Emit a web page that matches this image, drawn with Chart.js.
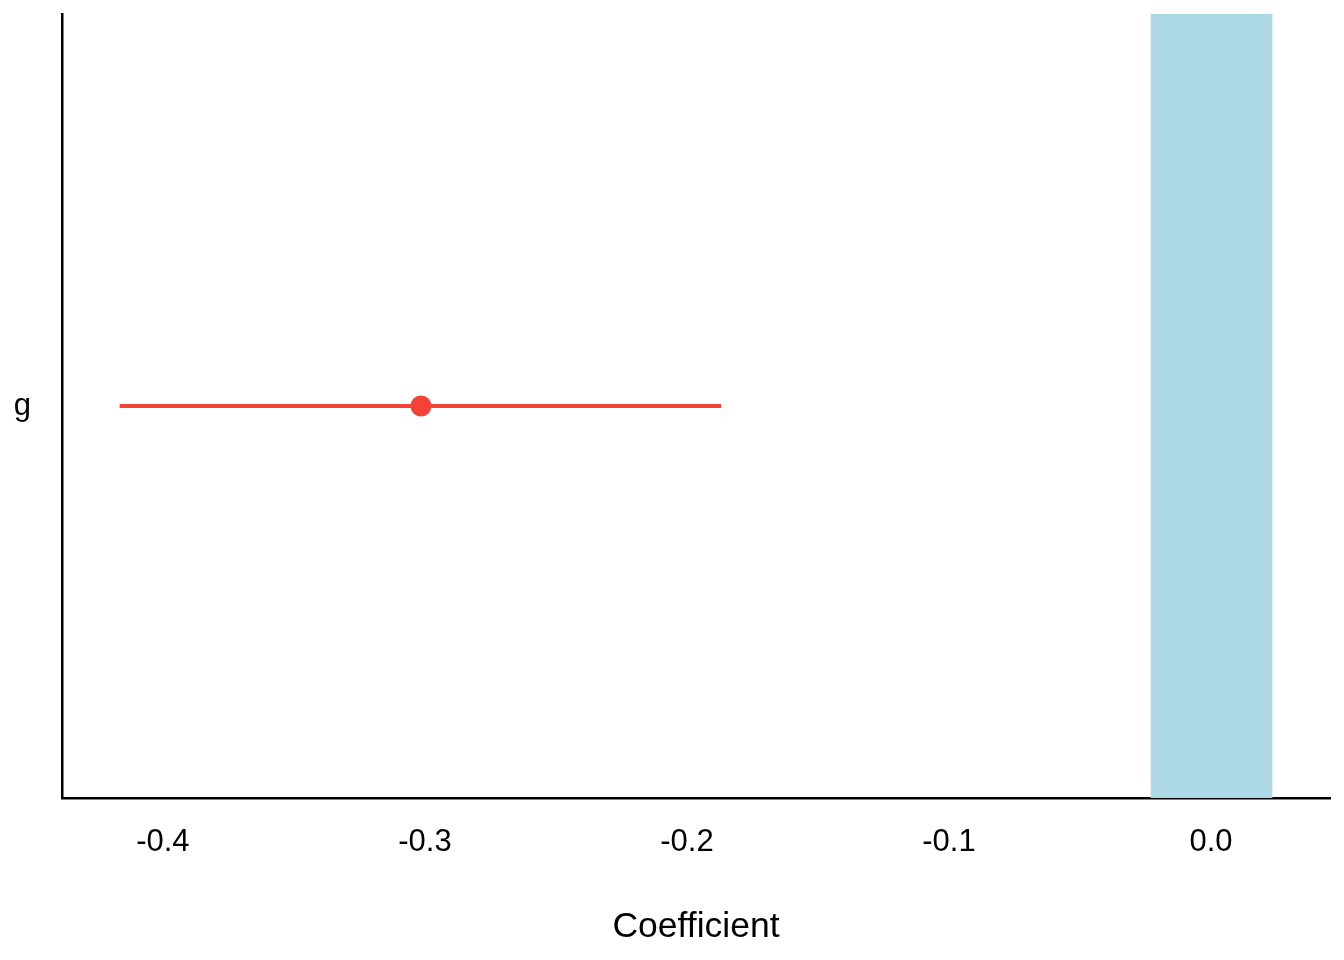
<!DOCTYPE html>
<html>
<head>
<meta charset="utf-8">
<script src="https://cdn.jsdelivr.net/npm/chart.js@4"></script>
<style>
  html, body { margin: 0; padding: 0; background: #fff; }
  #wrap { width: 1344px; height: 960px; }
</style>
</head>
<body>
<div id="wrap"><canvas id="chart" width="1344" height="960"></canvas></div>
<script>
// ------------------------------------------
// Dados
// ------------------------------------------
const terms = ['g'];
const estimates = [-0.3015];
const ciLow = [-0.4165];
const ciHigh = [-0.1870];
const bandRange = [-0.0229, 0.0233];
const xTicks = [-0.4, -0.3, -0.2, -0.1, 0.0];
const xMin = -0.4385;
const xMax = 0.0454;

const RED = '#F44336';
const FONT = "'Liberation Sans', Arial, sans-serif";

const ctx = document.getElementById('chart').getContext('2d');

new Chart(ctx, {
    type: 'bar',
    data: {
        labels: terms,
        datasets: [
            {
                // faixa em torno de zero
                type: 'bar',
                data: terms.map(() => bandRange),
                backgroundColor: '#ADD8E6',
                borderWidth: 0,
                barPercentage: 1,
                categoryPercentage: 1,
                order: 3
            },
            {
                // intervalo de confiança
                type: 'line',
                indexAxis: 'y',
                data: terms.flatMap((t, i) => [{ x: ciLow[i], y: t }, { x: ciHigh[i], y: t }]),
                borderColor: RED,
                borderWidth: 4,
                pointRadius: 0,
                fill: false,
                order: 2
            },
            {
                // estimativa pontual
                type: 'scatter',
                indexAxis: 'y',
                data: terms.map((t, i) => ({ x: estimates[i], y: t })),
                backgroundColor: RED,
                borderColor: RED,
                pointRadius: 10.5,
                borderWidth: 0,
                order: 1
            }
        ]
    },
    options: {
        indexAxis: 'y',
        responsive: false,
        animation: false,
        layout: { padding: { top: 14, right: 14, left: 0, bottom: 0 } },
        plugins: {
            legend: { display: false },
            tooltip: { enabled: false }
        },
        scales: {
            x: {
                type: 'linear',
                min: xMin,
                max: xMax,
                afterBuildTicks: scale => {
                    scale.ticks = xTicks.map(v => ({ value: v }));
                },
                afterFit: scale => {
                    scale.height = 162;
                    scale.paddingLeft = 0;
                    scale.paddingRight = 0;
                },
                ticks: {
                    color: '#000',
                    padding: 26,
                    maxRotation: 0,
                    font: { family: FONT, size: 31 },
                    callback: v => v.toFixed(1)
                },
                grid: { display: true, color: 'transparent', drawTicks: false },
                border: { display: true, color: '#000', width: 2.5 },
                title: {
                    display: true,
                    text: 'Coefficient',
                    color: '#000',
                    font: { family: FONT, size: 35.5 },
                    padding: { top: 0, bottom: 11 }
                }
            },
            y: {
                type: 'category',
                offset: true,
                afterFit: scale => {
                    scale.width = 62;
                    scale.paddingTop = 0;
                    scale.paddingBottom = 0;
                },
                ticks: {
                    color: '#000',
                    padding: 31,
                    font: { family: FONT, size: 31 }
                },
                grid: { display: true, color: 'transparent', drawTicks: false },
                border: { display: true, color: '#000', width: 2.5 }
            }
        }
    }
});
</script>
</body>
</html>
